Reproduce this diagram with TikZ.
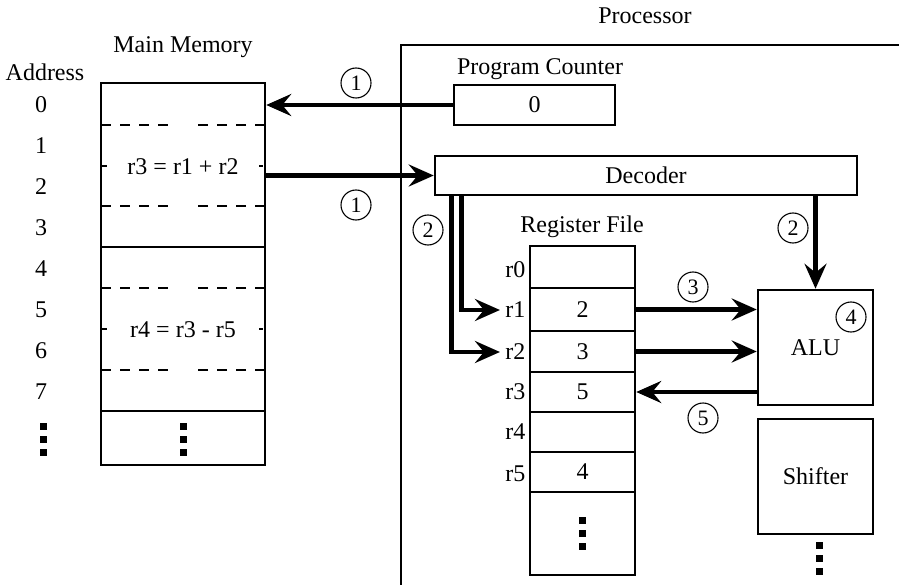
\documentclass[tikz,border=0pt]{standalone}
\usepackage{fontspec}
\setmainfont{Liberation Serif}
\usetikzlibrary{arrows.meta}
\begin{document}
\begin{tikzpicture}[x=1pt,y=-1pt,
  every node/.style={font=\rmfamily\fontsize{24}{28}\selectfont},
  box/.style={draw,line width=2.5pt,inner sep=0pt},
  conn/.style={line width=4.8pt,-{Stealth[length=25pt,width=22pt,inset=9pt]}},
  num/.style={circle,draw,line width=1.1pt,minimum size=30pt,inner sep=0pt,font=\rmfamily\fontsize{22}{24}\selectfont},
  dotsq/.style={fill=black,minimum size=7pt,inner sep=0pt},
  mdash/.style={line width=1.5pt,dash pattern=on 10pt off 9pt},
  rlab/.style={anchor=east}
]
\useasboundingbox (0,0) rectangle (899,585);

% ---------- Main memory ----------
\node (memtitle) at (183,47) {Main Memory};
\node (addrtitle) at (45,72) {Address};
\node[box,minimum width=164pt,minimum height=382pt] (mem) at (183,274) {};
\draw[line width=2.5pt] (101,247) -- (265,247);
\draw[line width=2.5pt] (101,411) -- (265,411);
\foreach \yy in {125,206,288,370}{
  \draw[mdash] (101,\yy) -- (168,\yy);
  \draw[mdash] (265,\yy) -- (198,\yy);
}
\draw[mdash] (101,166) -- (265,166);
\draw[mdash] (101,329) -- (265,329);
\node[fill=white,minimum width=152pt,inner sep=1pt] (ins1) at (183,167) {r3 = r1 + r2};
\node[fill=white,minimum width=152pt,inner sep=1pt] (ins2) at (183,330) {r4 = r3 - r5};
\foreach \i in {0,...,7}{
  \node (a\i) at (41,{105+41*\i}) {\i};
}
\foreach \yy in {426,439,452}{
  \node[dotsq] at (43,\yy) {};
  \node[dotsq] at (183,\yy) {};
}

% ---------- Processor ----------
\node (proctitle) at (645,16) {Processor};
\draw[line width=2.6pt] (899,45) -- (401,45) -- (401,585);

\node (pctitle) at (540,69) {Program Counter};
\node[box,minimum width=161pt,minimum height=40pt] (pc) at (534.5,105) {0};
\node[box,minimum width=422pt,minimum height=39pt] (dec) at (646,175.5) {Decoder};

% register file
\node (rftitle) at (582,227) {Register File};
\node[box,minimum width=105pt,minimum height=42pt] (r0) at (582.5,267) {};
\node[box,minimum width=105pt,minimum height=43pt] (r1) at (582.5,309.5) {2};
\node[box,minimum width=105pt,minimum height=41pt] (r2) at (582.5,351.5) {3};
\node[box,minimum width=105pt,minimum height=40pt] (r3) at (582.5,392) {5};
\node[box,minimum width=105pt,minimum height=40pt] (r4) at (582.5,432) {};
\node[box,minimum width=105pt,minimum height=40pt] (r5) at (582.5,472) {4};
\node[box,minimum width=105pt,minimum height=83pt] (rd) at (582.5,533.5) {};
\foreach \yy in {520,533,546}{ \node[dotsq] at (582,\yy) {}; }
\node[rlab] (l0) at (529,270) {r0};
\node[rlab] (l1) at (529,310) {r1};
\node[rlab] (l2) at (529,352) {r2};
\node[rlab] (l3) at (529,392) {r3};
\node[rlab] (l4) at (529,432) {r4};
\node[rlab] (l5) at (529,474) {r5};

% ALU and shifter
\node[box,minimum width=115pt,minimum height=115pt] (alu) at (815.5,347.5) {ALU};
\node[box,minimum width=115pt,minimum height=115pt] (sh) at (815.5,476.5) {Shifter};
\foreach \yy in {545,558,571}{ \node[dotsq] at (819,\yy) {}; }

% ---------- connectors ----------
\draw[conn] (pc.west) -- (pc.west -| mem.east);
\draw[conn] (mem.east |- dec.west) -- (dec.west);
\coordinate (d1) at ([xshift=18pt]dec.south west);
\coordinate (d2) at ([xshift=28pt]dec.south west);
\draw[conn] (d1) |- ([xshift=-2pt]l2.west);
\draw[conn] (d2) |- ([xshift=-2pt]l1.west);
\draw[conn] (dec.south -| alu.north) -- (alu.north);
\draw[conn] (r1.east) -- (r1.east -| alu.west);
\draw[conn] (r2.east) -- (r2.east -| alu.west);
\draw[conn] (alu.west |- r3.east) -- (r3.east);

% ---------- step numbers ----------
\node[num] (n1a) at (356,83) {1};
\node[num] (n1b) at (356,205) {1};
\node[num] (n2a) at (428,230) {2};
\node[num] (n2b) at (793,228) {2};
\node[num] (n3) at (693,287) {3};
\node[num] (n4) at (851,317) {4};
\node[num] (n5) at (703,418) {5};
\end{tikzpicture}
\end{document}
